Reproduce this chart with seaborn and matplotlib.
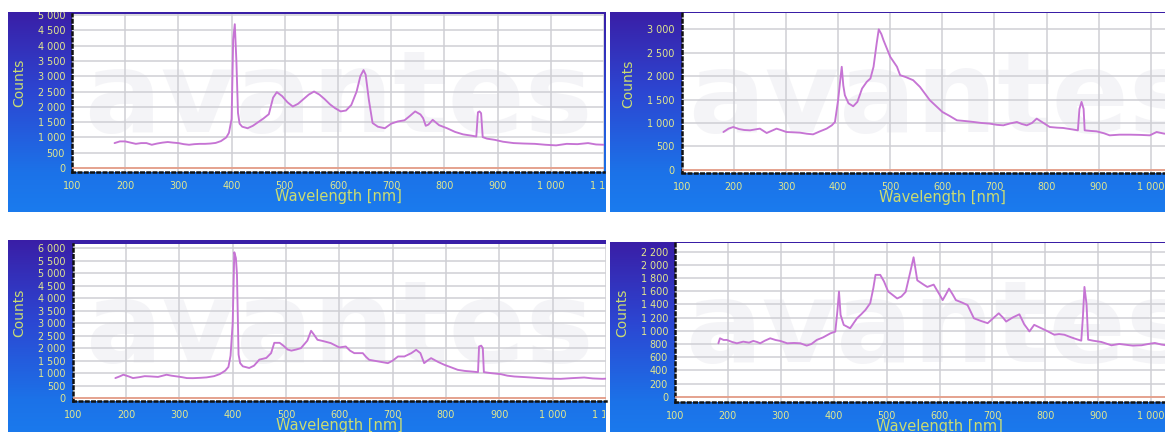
import numpy as np
import pandas as pd
import matplotlib
matplotlib.use("Agg")
import matplotlib.pyplot as plt
import seaborn as sns
from matplotlib.colors import LinearSegmentedColormap
from matplotlib.transforms import Bbox, TransformedBbox
from matplotlib.ticker import FuncFormatter, MultipleLocator

# ---------------- data ----------------
wl1 = [180, 190, 200, 210, 220, 230, 240, 250, 260, 270,
       280, 290, 300, 310, 320, 330, 340, 350, 360, 370,
       380, 390, 395, 400, 403, 406, 409, 412, 415, 420,
       430, 440, 450, 460, 470, 478, 485, 495, 505, 515,
       525, 535, 545, 555, 565, 575, 585, 595, 605, 615,
       625, 635, 642, 648, 652, 658, 665, 675, 688, 700,
       712, 725, 735, 745, 755, 760, 765, 770, 778, 790,
       805, 820, 835, 850, 860, 863, 866, 869, 872, 880,
       895, 910, 930, 950, 970, 990, 1010, 1030, 1050, 1070,
       1085, 1100]
counts1 = [815, 870, 870, 830, 790, 815, 815, 760, 800, 830,
           850, 830, 815, 780, 760, 780, 790, 790, 800, 820,
           880, 1000, 1150, 1600, 4200, 4700, 3500, 1800, 1450, 1350,
           1300, 1380, 1500, 1620, 1760, 2300, 2480, 2350, 2150, 2010,
           2100, 2250, 2400, 2500, 2400, 2250, 2080, 1950, 1850, 1880,
           2060, 2500, 3000, 3200, 3050, 2230, 1470, 1350, 1300, 1450,
           1520, 1560, 1700, 1850, 1750, 1630, 1380, 1420, 1575, 1400,
           1300, 1180, 1100, 1060, 1030, 1820, 1850, 1790, 1010, 960,
           920, 860, 815, 800, 790, 760, 740, 790, 780, 815,
           770, 760]

wl2 = [180, 190, 199, 210, 220, 231, 240, 250, 263, 272,
       282, 290, 301, 315, 327, 340, 352, 365, 378, 388,
       394, 400, 404, 407, 410, 413, 420, 429, 437, 446,
       455, 462, 468, 474, 478, 483, 487, 500, 513, 519,
       530, 544, 557, 576, 600, 614, 628, 645, 660, 675,
       691, 705, 717, 730, 743, 752, 762, 772, 781, 794,
       806, 820, 832, 845, 860, 863, 867, 871, 873, 885,
       896, 910, 921, 940, 960, 980, 998, 1011, 1026, 1045,
       1065, 1085, 1100]
counts2 = [807, 880, 914, 870, 850, 843, 860, 879, 786, 830,
           879, 850, 807, 800, 793, 770, 757, 820, 879, 950,
           1021, 1486, 1900, 2200, 1800, 1593, 1420, 1357, 1450, 1736,
           1879, 1950, 2200, 2700, 3000, 2900, 2771, 2414, 2200, 2021,
           1980, 1914, 1771, 1486, 1236, 1150, 1057, 1040, 1021, 1000,
           986, 960, 950, 990, 1021, 980, 950, 1000, 1093, 1000,
           914, 900, 893, 870, 843, 1300, 1450, 1300, 843, 830,
           821, 780, 736, 750, 750, 745, 736, 807, 771, 780,
           760, 770, 760]

wl3 = [180, 188, 195, 205, 213, 225, 235, 245, 260, 276,
       285, 295, 305, 314, 325, 340, 351, 365, 376, 386,
       392, 396, 400, 403, 406, 408, 411, 414, 419, 431,
       440, 450, 463, 472, 478, 488, 495, 503, 510, 519,
       528, 540, 547, 552, 559, 570, 584, 600, 612, 620,
       628, 644, 650, 656, 670, 691, 700, 710, 722, 735,
       744, 752, 759, 765, 772, 785, 797, 810, 822, 835,
       847, 860, 862, 866, 869, 871, 885, 903, 915, 928,
       950, 978, 995, 1015, 1035, 1059, 1075, 1093, 1100]
counts3 = [804, 870, 938, 870, 804, 840, 880, 871, 850, 938,
           900, 871, 840, 804, 800, 815, 831, 880, 965, 1100,
           1250, 1700, 3000, 5831, 5600, 4960, 1743, 1400, 1273, 1206,
           1300, 1541, 1608, 1800, 2212, 2212, 2100, 1944, 1900, 1944,
           2000, 2300, 2693, 2550, 2333, 2280, 2200, 2027, 2067, 1900,
           1800, 1800, 1650, 1533, 1480, 1400, 1500, 1667, 1667, 1800,
           1933, 1800, 1400, 1500, 1600, 1450, 1333, 1230, 1133, 1090,
           1067, 1040, 2067, 2100, 2000, 1040, 1000, 960, 900, 867,
           840, 800, 780, 773, 800, 827, 790, 773, 780]

wl4 = [182, 185, 192, 198, 208, 217, 229, 240, 248, 255,
       261, 270, 280, 290, 299, 305, 312, 325, 337, 349,
       358, 368, 380, 394, 403, 407, 410, 413, 419, 431,
       444, 452, 460, 469, 475, 479, 488, 495, 503, 508,
       520, 528, 536, 545, 551, 558, 570, 577, 589, 600,
       606, 612, 618, 625, 631, 642, 653, 665, 678, 691,
       700, 712, 720, 726, 738, 751, 760, 770, 779, 792,
       805, 817, 826, 836, 849, 860, 868, 871, 874, 878,
       881, 890, 906, 925, 940, 950, 965, 982, 995, 1007,
       1020, 1029, 1045, 1065, 1085, 1100]
counts4 = [810, 886, 860, 861, 830, 810, 835, 820, 846, 830,
           810, 850, 886, 860, 846, 830, 810, 815, 810, 775,
           800, 861, 900, 962, 987, 1300, 1595, 1241, 1089, 1038,
           1190, 1250, 1316, 1418, 1650, 1848, 1848, 1750, 1595, 1565,
           1490, 1520, 1590, 1900, 2115, 1765, 1700, 1665, 1700, 1550,
           1465, 1550, 1640, 1550, 1465, 1430, 1390, 1190, 1150, 1115,
           1180, 1265, 1200, 1140, 1200, 1250, 1100, 990, 1090, 1040,
           990, 940, 950, 940, 900, 870, 850, 1200, 1665, 1400,
           865, 850, 830, 780, 800, 790, 775, 780, 800, 815,
           790, 780, 790, 770, 785, 770]

x_ticks = [100, 200, 300, 400, 500, 600, 700, 800, 900, 1000, 1100]
y_ticks1 = list(range(0, 5001, 500))
y_ticks2 = list(range(0, 3001, 500))
y_ticks3 = list(range(0, 6001, 500))
y_ticks4 = list(range(0, 2201, 200))

x_label = "Wavelength [nm]"
y_label = "Counts"
watermark = "avantes"

# ---------------- layout ----------------
W, H = 1165, 432
sns.set_theme(style="white")
plt.rcParams["font.family"] = ["DejaVu Sans"]

fig = plt.figure(figsize=(W / 100, H / 100), dpi=100)
fig.patch.set_facecolor("white")


def rect(l, t, r, b):
    return [l / W, 1 - b / H, (r - l) / W, (b - t) / H]


grad_cmap = LinearSegmentedColormap.from_list(
    "frame",
    [(0.0, "#3a1ea6"), (0.40, "#2c46d2"), (0.80, "#1c72e8"), (1.0, "#1a7bee")])

LINE_C = "#c674d4"
TICK_C = "#e2e88e"
LABEL_C = "#cadc72"
GRID_C = "#cfcfd4"

panels = [
    dict(wl=wl1, c=counts1, yt=y_ticks1, ylim=(-130, 5050),
         frame=(8, 12, 605, 212), ax=(72, 13.5, 604, 172)),
    dict(wl=wl2, c=counts2, yt=y_ticks2, ylim=(-58, 3343),
         frame=(610, 12, 1320, 212), ax=(681.7, 13.3, 1203, 172.5)),
    dict(wl=wl3, c=counts3, yt=y_ticks3, ylim=(-100, 6160),
         frame=(8, 240, 605, 460), ax=(72.7, 244, 606, 400.7)),
    dict(wl=wl4, c=counts4, yt=y_ticks4, ylim=(-76, 2327),
         frame=(610, 242, 1320, 462), ax=(675, 243.3, 1204, 401.7)),
]

fmt = FuncFormatter(lambda v, p: f"{int(round(v)):,}".replace(",", " "))

for p in panels:
    fl, ft, fr, fb = p["frame"]
    # gradient frame
    fax = fig.add_axes(rect(fl, ft, fr, fb), zorder=0)
    hpx = fb - ft
    g = np.linspace(0, hpx / 200.0, 256)
    g = np.clip(g, 0, 1).reshape(-1, 1)
    fax.imshow(g, aspect="auto", cmap=grad_cmap, vmin=0, vmax=1,
               extent=[0, 1, 0, 1], origin="upper")
    fax.set_axis_off()

    al, at, ar, ab = p["ax"]
    ax = fig.add_axes(rect(al, at, ar, ab), zorder=1)
    ax.set_facecolor("white")
    df = pd.DataFrame({"Wavelength": p["wl"], "Counts": p["c"]})
    sns.lineplot(data=df, x="Wavelength", y="Counts", ax=ax, color=LINE_C,
                 linewidth=1.35, estimator=None, sort=False, zorder=3)
    ax.axhline(0, color="#e89a82", linewidth=1.2, zorder=2.6)

    ax.set_xlim(100, 1100)
    ax.set_ylim(*p["ylim"])
    ax.set_xticks(x_ticks)
    ax.xaxis.set_minor_locator(MultipleLocator(20))
    ax.set_yticks(p["yt"])
    ax.xaxis.set_major_formatter(fmt)
    ax.yaxis.set_major_formatter(fmt)
    ax.grid(True, which="major", color=GRID_C, linewidth=1.1, zorder=0.5)
    ax.set_axisbelow(True)

    for s in ["top", "right"]:
        ax.spines[s].set_visible(False)
    for s in ["left", "bottom"]:
        ax.spines[s].set_color("#111111")
        ax.spines[s].set_linewidth(1.8)
        ax.spines[s].set_linestyle((0, (1, 1.5)))

    ax.tick_params(axis="both", which="major", colors=TICK_C, labelcolor=TICK_C,
                   labelsize=6.9, length=3, width=0.8, direction="out")
    ax.tick_params(axis="x", which="major", pad=3.5)
    ax.tick_params(axis="y", which="major", pad=2)
    ax.tick_params(axis="x", which="minor", colors="#9fb8e8", length=2,
                   width=0.8, direction="out")

    wpx = ar - al
    hh = ab - at
    ax.set_xlabel(x_label, color=LABEL_C, fontsize=10.5)
    ax.set_ylabel(y_label, color=LABEL_C, fontsize=10)
    ax.xaxis.label.set_va("center")
    ax.yaxis.label.set_va("center")
    ax.xaxis.set_label_coords(0.5, -25 / hh)
    ax.yaxis.set_label_coords(-53 / wpx, 0.56)

    # faint watermark
    ax.text(0.5, 0.45, watermark, transform=ax.transAxes, fontsize=82,
            color="#ececf1", alpha=0.55, ha="center", va="center",
            fontweight="bold", zorder=0.2, clip_on=True)

    # clip tick labels to the frame
    bb = TransformedBbox(Bbox.from_extents(fl / W, 1 - fb / H, fr / W, 1 - ft / H),
                         fig.transFigure)
    for t in ax.xaxis.get_major_ticks() + ax.yaxis.get_major_ticks():
        for lab in (t.label1, t.label2):
            lab.set_clip_box(bb)
            lab.set_clip_on(True)

fig.savefig("out.png", dpi=100, facecolor="white")
